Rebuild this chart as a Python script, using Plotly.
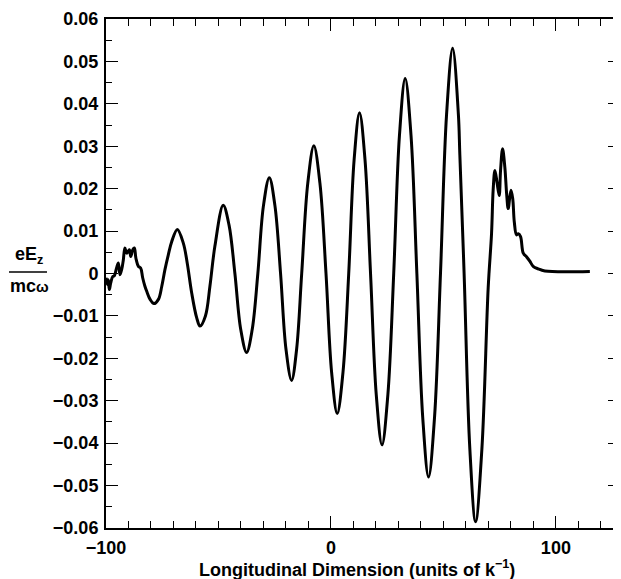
import plotly.graph_objects as go

# Data
x_pos = [-100, -99.4, -99.0, -98.5, -97.9, -97.0, -96.4, -95.3, -94.5, -93.8, -93.0,
         -92.3, -91.6, -90.8, -89.6, -89.0, -88.1, -87.4, -86.7, -85.6, -84.6, -83.7,
         -82.7, -81.9, -80.4, -78.7, -76.7, -75.2, -73.8, -72.3, -70.8, -68.3, -65.6,
         -63.9, -61.9, -59.7, -58.2, -55.8, -53.8, -51.6, -47.9, -45.3, -42.7, -40.1,
         -37.5, -35.0, -32.5, -30.0, -27.4, -24.9, -22.4, -20.0, -17.5, -15.25, -13.0,
         -10.3, -7.6, -4.9, -2.2, 0.3, 2.8, 5.35, 7.9, 10.3, 12.7, 15.15, 17.6, 20.15,
         22.7, 25.3, 27.9, 30.45, 33.0, 35.6, 38.2, 40.8, 43.4, 46.05, 48.7, 51.4, 54.1,
         56.65, 57.3, 59.2, 61.75, 64.3, 67.1, 69.9, 71.4, 72.1, 72.9,
         73.9, 74.8, 75.4, 76.3, 77.3, 78.1, 78.8, 80.0, 80.8, 81.5, 82.5, 83.3,
         84.3, 85.5, 87.0, 88.4, 89.9, 92.1, 95.1, 115.1]
ez = [-0.0010, -0.0026, -0.0015, -0.0038, -0.0022, -0.0007, -0.0006, 0.0013, 0.0025,
      -0.0003, 0.0010, 0.0032, 0.0060, 0.0048, 0.0056, 0.0040, 0.0056, 0.0060, 0.0036,
      0.0017, 0.0013, -0.0010, -0.0030, -0.0042, -0.0061, -0.0071, -0.0061, -0.0030,
      0.0009, 0.0044, 0.0075, 0.0104, 0.0071, 0.0025, -0.0046, -0.0104, -0.0124,
      -0.0100, -0.0030, 0.0064, 0.0161, 0.0114, 0.0, -0.0132,
      -0.0186, -0.0132, 0.0, 0.0160, 0.0226, 0.0160, 0.0, -0.0178, -0.0252, -0.0178, 0.0,
      0.0213, 0.0301, 0.0213, 0.0, -0.0233, -0.0330, -0.0233, 0.0, 0.0268, 0.0379, 0.0268,
      0.0, -0.0286, -0.0404, -0.0286, 0.0, 0.0325, 0.0460, 0.0325, 0.0, -0.0339, -0.0480,
      -0.0339, 0.0, 0.0375, 0.0531,
      0.0375, 0.0280, 0.0, -0.0414, -0.0585, -0.0414, -0.0034, 0.0095, 0.0196, 0.0243,
      0.0212, 0.0184, 0.0243, 0.0294, 0.0251, 0.0188, 0.0153, 0.0196, 0.0177, 0.0122,
      0.0091, 0.0094, 0.0087, 0.0048, 0.0039, 0.0029, 0.0017, 0.0011, 0.0006, 0.0005]

x_tick_vals = [-100, 0, 100]
x_tick_text = ["\u2212100", "0", "100"]
y_tick_vals = [0.06, 0.05, 0.04, 0.03, 0.02, 0.01, 0, -0.01, -0.02, -0.03, -0.04, -0.05, -0.06]
y_tick_text = ["0.06", "0.05", "0.04", "0.03", "0.02", "0.01", "0", "\u22120.01", "\u22120.02",
               "\u22120.03", "\u22120.04", "\u22120.05", "\u22120.06"]

FONT = "Liberation Sans, Arial, sans-serif"
BOLD18 = dict(family=FONT, size=18, color="black", weight="bold")

fig = go.Figure()
fig.add_trace(go.Scatter(x=x_pos, y=ez, mode="lines",
                         line=dict(color="black", width=3, shape="spline", smoothing=1.0),
                         showlegend=False, hoverinfo="skip"))

axis_common = dict(showline=True, linecolor="black", linewidth=2, mirror="allticks",
                   ticks="inside", ticklen=12, tickwidth=1.3, tickcolor="black",
                   showgrid=False, zeroline=False, automargin=False,
                   ticklabeloverflow="allow", tickfont=BOLD18)

fig.update_xaxes(range=[-100, 128.5], tickmode="array", tickvals=x_tick_vals,
                 ticktext=x_tick_text, ticklabelstandoff=2,
                 minor=dict(dtick=10, tick0=0, ticks="inside", ticklen=7, tickwidth=1.2,
                            tickcolor="black", showgrid=False),
                 **axis_common)
fig.update_yaxes(range=[-0.06, 0.06], tickmode="array", tickvals=y_tick_vals,
                 ticktext=y_tick_text, ticklabelstandoff=2,
                 minor=dict(dtick=0.005, tick0=0, ticks="inside", ticklen=6, tickwidth=1.2,
                            tickcolor="black", showgrid=False),
                 **axis_common)

# x-axis title
fig.add_annotation(xref="paper", yref="paper", x=0.489, y=-0.0786, xanchor="center",
                   yanchor="middle", showarrow=False,
                   text="Longitudinal Dimension (units of k<sup>\u22121</sup>)", font=BOLD18)

# y-axis title as a fraction
fig.add_annotation(xref="paper", yref="paper", x=-0.1498, y=0.5088, xanchor="center",
                   yanchor="bottom", showarrow=False,
                   text="eE<sub>z</sub>", font=BOLD18)
fig.add_annotation(xref="paper", yref="paper", x=-0.1498, y=0.4990, xanchor="center",
                   yanchor="top", showarrow=False,
                   text="mc<span style='font-size:15px'>\u03c9</span>", font=BOLD18)
fig.add_shape(type="line", xref="paper", yref="paper", x0=-0.1887, x1=-0.1148,
              y0=0.5029, y1=0.5029, line=dict(color="black", width=1.5))

# the page body adds an 8px offset, so the figure is sized to fit the window
fig.update_layout(width=613, height=571, plot_bgcolor="white", paper_bgcolor="white",
                  margin=dict(l=98, r=1, t=11, b=51))

fig.write_html("out.html")
